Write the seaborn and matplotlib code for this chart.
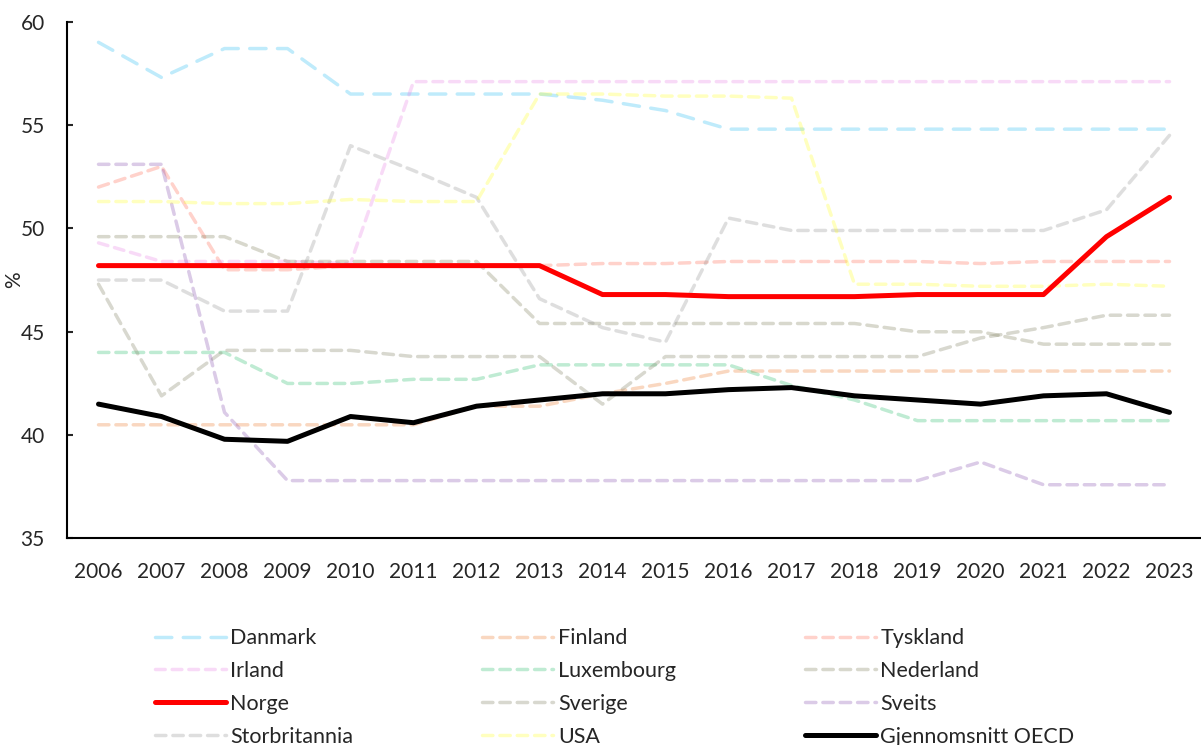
import numpy as np
import pandas as pd
import matplotlib
matplotlib.use("Agg")
import matplotlib.pyplot as plt
import seaborn as sns

years = list(range(2006, 2024))

danmark = [59.0, 57.3, 58.7, 58.7, 56.5, 56.5, 56.5, 56.5, 56.2, 55.7, 54.8, 54.8, 54.8, 54.8, 54.8, 54.8, 54.8, 54.8]
finland = [40.5, 40.5, 40.5, 40.5, 40.5, 40.5, 41.4, 41.4, 42.0, 42.5, 43.1, 43.1, 43.1, 43.1, 43.1, 43.1, 43.1, 43.1]
tyskland = [52.0, 53.0, 48.0, 48.0, 48.2, 48.2, 48.2, 48.2, 48.3, 48.3, 48.4, 48.4, 48.4, 48.4, 48.3, 48.4, 48.4, 48.4]
irland = [49.3, 48.4, 48.4, 48.4, 48.3, 57.1, 57.1, 57.1, 57.1, 57.1, 57.1, 57.1, 57.1, 57.1, 57.1, 57.1, 57.1, 57.1]
luxembourg = [44.0, 44.0, 44.0, 42.5, 42.5, 42.7, 42.7, 43.4, 43.4, 43.4, 43.4, 42.4, 41.7, 40.7, 40.7, 40.7, 40.7, 40.7]
nederland = [49.6, 49.6, 49.6, 48.4, 48.4, 48.4, 48.4, 45.4, 45.4, 45.4, 45.4, 45.4, 45.4, 45.0, 45.0, 44.4, 44.4, 44.4]
norge = [48.2, 48.2, 48.2, 48.2, 48.2, 48.2, 48.2, 48.2, 46.8, 46.8, 46.7, 46.7, 46.7, 46.8, 46.8, 46.8, 49.6, 51.5]
sverige = [47.3, 41.9, 44.1, 44.1, 44.1, 43.8, 43.8, 43.8, 41.5, 43.8, 43.8, 43.8, 43.8, 43.8, 44.7, 45.2, 45.8, 45.8]
sveits = [53.1, 53.1, 41.1, 37.8, 37.8, 37.8, 37.8, 37.8, 37.8, 37.8, 37.8, 37.8, 37.8, 37.8, 38.7, 37.6, 37.6, 37.6]
storbritannia = [47.5, 47.5, 46.0, 46.0, 54.0, 52.8, 51.5, 46.6, 45.2, 44.5, 50.5, 49.9, 49.9, 49.9, 49.9, 49.9, 50.9, 54.5]
usa = [51.3, 51.3, 51.2, 51.2, 51.4, 51.3, 51.3, 56.5, 56.5, 56.4, 56.4, 56.3, 47.3, 47.3, 47.2, 47.2, 47.3, 47.2]
oecd = [41.5, 40.9, 39.8, 39.7, 40.9, 40.6, 41.4, 41.7, 42.0, 42.0, 42.2, 42.3, 41.9, 41.7, 41.5, 41.9, 42.0, 41.1]

series = {
    "Danmark": danmark, "Finland": finland, "Tyskland": tyskland,
    "Irland": irland, "Luxembourg": luxembourg, "Nederland": nederland,
    "Norge": norge, "Sverige": sverige, "Sveits": sveits,
    "Storbritannia": storbritannia, "USA": usa, "Gjennomsnitt OECD": oecd,
}

# (colour, alpha, linewidth, dashes)
styles = {
    "Danmark": ("#00B0F0", 0.25, 2.5, (4.7, 3.3)),
    "Finland": ("#ED7D31", 0.3, 2.5, (3, 2)),
    "Tyskland": ("#FF6A55", 0.3, 2.5, (3, 2)),
    "Irland": ("#E46FE0", 0.25, 2.5, (2.8, 2)),
    "Luxembourg": ("#00B050", 0.25, 2.5, (3, 2)),
    "Nederland": ("#7F7F5A", 0.3, 2.5, (3, 2)),
    "Norge": ("#FF0000", 1.0, 3.6, None),
    "Sverige": ("#7F7F60", 0.3, 2.5, (3, 2)),
    "Sveits": ("#7030A0", 0.25, 2.5, (3, 2)),
    "Storbritannia": ("#7F7F7F", 0.25, 2.5, (3, 2)),
    "USA": ("#FFFF00", 0.25, 2.5, (3, 2)),
    "Gjennomsnitt OECD": ("#000000", 1.0, 3.6, None),
}

sns.set_style("white")
plt.rcParams["font.family"] = ["Lato", "DejaVu Sans"]

fig = plt.figure(figsize=(12.01, 7.45), dpi=100)
ax = fig.add_axes([0.0558, 0.2772, 0.9442, 0.6937])

handles = {}
for name, vals in series.items():
    color, alpha, lw, dash = styles[name]
    ls = "-" if dash is None else (0, dash)
    z = 5 if dash is None else 2
    sns.lineplot(x=years, y=vals, ax=ax, color=color, alpha=alpha, linewidth=lw,
                 linestyle=ls, zorder=z, label=name)
    handles[name] = ax.get_lines()[-1]
    handles[name].set_dash_capstyle("round")
    handles[name].set_solid_capstyle("round")

ax.get_legend().remove()

ax.set_xlim(2005.5, 2023.5)
ax.set_ylim(35, 60)
ax.set_xticks(years)
ax.set_yticks([35, 40, 45, 50, 55, 60])
ax.tick_params(axis="x", length=0, pad=17, labelsize=15)
ax.tick_params(axis="y", direction="in", length=4, width=1.5, pad=16, labelsize=15, left=True)
for s in ["top", "right"]:
    ax.spines[s].set_visible(False)
for s in ["left", "bottom"]:
    ax.spines[s].set_color("black")
    ax.spines[s].set_linewidth(1.5)
ax.set_xlabel("")
ax.set_ylabel("%", fontsize=15)
ax.yaxis.set_label_coords(-0.038, 0.5)

order = ["Danmark", "Irland", "Norge", "Storbritannia",
         "Finland", "Luxembourg", "Sverige", "USA",
         "Tyskland", "Nederland", "Sveits", "Gjennomsnitt OECD"]
fig.legend([handles[n] for n in order], order, loc="upper left",
           bbox_to_anchor=(0.129, 0.157), ncol=3, frameon=False, fontsize=15.5,
           handlelength=3.3, handletextpad=0.2, columnspacing=6.0,
           labelspacing=0.6, borderpad=0, borderaxespad=0)

fig.savefig("out.png", dpi=100)
